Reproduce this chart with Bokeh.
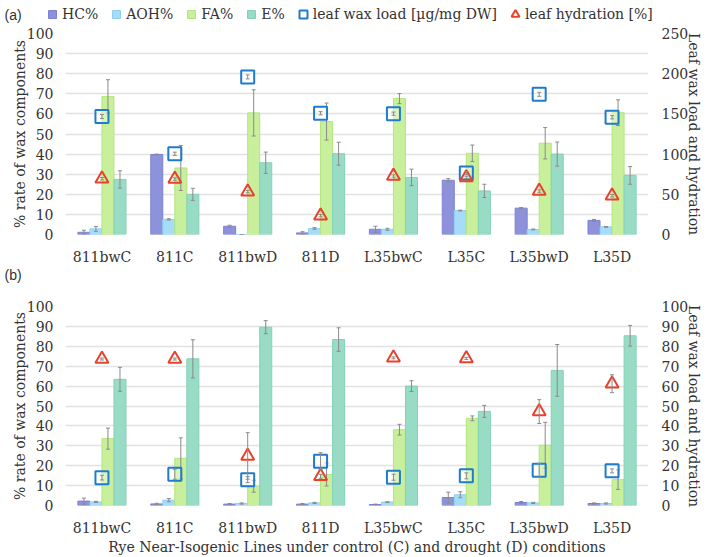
from bokeh.plotting import figure
from bokeh.models import (ColumnDataSource, FactorRange, Range1d, LinearAxis,
                          FixedTicker, Legend, LegendItem, Label)
from bokeh.transform import dodge
from bokeh.layouts import column
from bokeh.embed import file_html
from bokeh.resources import INLINE

# ---------------- data ----------------
cats = ["811bwC", "811C", "811bwD", "811D", "L35bwC", "L35C", "L35bwD", "L35D"]

# panel (a)
hc_a = [1.1, 39.8, 4.1, 0.8, 2.6, 27.0, 13.1, 7.0]
hc_a_err = [1.0, 0.2, 0.5, 0.6, 1.5, 0.8, 0.3, 0.5]
aoh_a = [2.8, 7.5, 0.0, 3.0, 2.6, 11.9, 2.5, 3.8]
aoh_a_err = [1.2, 0.3, 0.0, 0.4, 0.5, 0.2, 0.2, 0.2]
fa_a = [68.7, 33.1, 60.5, 56.2, 67.6, 40.4, 45.4, 60.6]
fa_a_err = [8.3, 11.2, 11.5, 9.2, 2.5, 4.1, 7.8, 6.4]
e_a = [27.4, 20.0, 35.7, 40.2, 28.4, 21.7, 40.0, 29.4]
e_a_err = [4.3, 3.0, 5.3, 5.7, 4.1, 3.3, 6.0, 4.4]
wax_a = [146.7, 100.4, 196.0, 150.8, 150.3, 76.4, 174.4, 145.8]
wax_a_err = [2.5, 2.0, 2.5, 2.0, 2.0, 2.0, 2.5, 2.0]
hyd_a = [69.3, 69.0, 53.3, 23.4, 72.7, 71.0, 54.0, 48.2]
hyd_a_err = [1.5, 1.5, 1.5, 1.5, 1.5, 1.5, 1.5, 1.5]

# panel (b)
hc_b = [2.2, 0.8, 0.7, 0.7, 0.5, 4.0, 1.5, 1.0]
hc_b_err = [1.5, 0.3, 0.3, 0.3, 0.2, 2.7, 0.5, 0.3]
aoh_b = [1.8, 2.7, 1.0, 1.3, 1.7, 5.4, 1.3, 1.0]
aoh_b_err = [0.3, 0.8, 0.3, 0.3, 0.2, 1.5, 0.3, 0.3]
fa_b = [33.6, 23.7, 9.7, 15.6, 38.1, 43.8, 30.3, 13.0]
fa_b_err = [5.3, 10.3, 3.0, 5.8, 2.7, 1.2, 11.5, 4.9]
e_b = [63.4, 73.7, 89.6, 83.4, 60.0, 47.3, 67.9, 85.3]
e_b_err = [6.0, 9.6, 3.3, 5.9, 2.7, 3.0, 13.0, 5.2]
wax_b = [14.0, 15.7, 13.0, 22.2, 14.2, 14.9, 17.7, 17.4]
wax_b_err = [1.2, 2.5, 1.5, 4.3, 1.5, 1.5, 3.5, 1.0]
hyd_b = [73.6, 73.6, 24.9, 14.7, 74.2, 73.9, 47.2, 61.2]
hyd_b_err = [0.5, 0.5, 11.7, 1.0, 0.5, 0.5, 6.0, 4.5]

series_names = ["HC%", "AOH%", "FA%", "E%"]
wax_name = "leaf wax load [µg/mg DW]"
hyd_name = "leaf hydration [%]"
fills = ["#8e92db", "#a6dcf7", "#c8ef9c", "#99dcc5"]
lines = ["#7d82d0", "#8fd0f2", "#b4e47e", "#84d1b6"]
WAX_COLOR = "#1f7bcb"
HYD_COLOR = "#e8412c"
ERR_COLOR = "#8a8a8a"
GRID = "#e2e2e2"
TXT = "#333333"
SERIF = "DejaVu Serif"
BW = 0.165
offsets = [-1.5 * BW, -0.5 * BW, 0.5 * BW, 1.5 * BW]
W = 709


def style_axis(ax, standoff, label_standoff):
    ax.axis_line_color = None
    ax.major_tick_line_color = None
    ax.minor_tick_line_color = None
    ax.major_tick_out = 0
    ax.major_tick_in = 0
    ax.minor_tick_out = 0
    ax.minor_tick_in = 0
    ax.major_label_text_font = SERIF
    ax.major_label_text_font_size = "14px"
    ax.major_label_text_color = TXT
    ax.major_label_standoff = standoff
    ax.axis_label_text_font = SERIF
    ax.axis_label_text_font_size = "14px"
    ax.axis_label_text_font_style = "normal"
    ax.axis_label_text_color = TXT
    ax.axis_label_standoff = label_standoff


def strip(height):
    s = figure(width=W, height=height, x_range=Range1d(0, 1), y_range=Range1d(0, 1),
               x_axis_type=None, y_axis_type=None,
               output_backend="svg", toolbar_location=None,
               min_border_left=0, min_border_right=0, min_border_top=0, min_border_bottom=0)
    if "frame_align" in s.properties():
        s.frame_align = False
    s.grid.visible = False
    s.outline_line_color = None
    return s


# ---------------- header strip with "(a)" and legend ----------------
hdr = strip(24)
items = []
for i in range(4):
    d = hdr.scatter(x=[5], y=[5], marker="square", size=8,
                    fill_color=fills[i], line_color=lines[i])
    items.append(LegendItem(label=series_names[i], renderers=[d]))
d = hdr.scatter(x=[5], y=[5], marker="square", size=8, fill_color=None,
                line_color=WAX_COLOR, line_width=2)
items.append(LegendItem(label=wax_name, renderers=[d]))
d = hdr.scatter(x=[5], y=[5], marker="triangle", size=8, fill_color=None,
                line_color=HYD_COLOR, line_width=2)
items.append(LegendItem(label=hyd_name, renderers=[d]))
leg = Legend(items=items, orientation="horizontal", location=(42, 0),
             glyph_width=20, glyph_height=20, label_standoff=0, spacing=8,
             padding=0, margin=0, border_line_color=None,
             background_fill_alpha=0, label_text_font=SERIF,
             label_text_font_size="14px", label_text_color=TXT)
hdr.add_layout(leg)
hdr.add_layout(Label(x=4, y=10, x_units="screen", y_units="screen", text="(a)",
                     text_font="Liberation Sans", text_font_size="14px",
                     text_color=TXT, text_baseline="middle"))

# ---------------- strip with "(b)" ----------------
tagb = strip(17)
tagb.add_layout(Label(x=4, y=9.5, x_units="screen", y_units="screen", text="(b)",
                      text_font="Liberation Sans", text_font_size="14px",
                      text_color=TXT, text_baseline="middle"))


def make_panel(bars, errs, wax, waxe, hyd, hyde, rmax, rstep,
               height, btop, bbottom, xstand, xtitle):
    p = figure(x_range=FactorRange(*cats), y_range=Range1d(0, 100),
               width=W, height=height, output_backend="svg",
               toolbar_location=None, min_border_left=65, min_border_right=61,
               min_border_top=btop, min_border_bottom=bbottom)
    p.outline_line_color = None
    p.xgrid.grid_line_color = None
    p.ygrid.grid_line_color = GRID
    p.ygrid.grid_line_width = 1.5
    p.yaxis.ticker = FixedTicker(ticks=list(range(0, 101, 10)))
    p.yaxis.axis_label = "% rate of wax components"
    style_axis(p.yaxis[0], 12, -4)
    style_axis(p.xaxis[0], xstand, 0)
    if xtitle:
        p.xaxis.axis_label = xtitle

    p.extra_y_ranges = {"r": Range1d(0, rmax)}
    rax = LinearAxis(y_range_name="r", ticker=FixedTicker(ticks=list(range(0, rmax + 1, rstep))),
                     axis_label="Leaf wax load and hydration")
    style_axis(rax, 13, -5)
    p.add_layout(rax, "right")

    data = dict(cat=cats, wax=wax, wax_lo=[v - d for v, d in zip(wax, waxe)],
                wax_hi=[v + d for v, d in zip(wax, waxe)], hyd=hyd,
                hyd_lo=[v - d for v, d in zip(hyd, hyde)],
                hyd_hi=[v + d for v, d in zip(hyd, hyde)])
    for i, (vals, er) in enumerate(zip(bars, errs)):
        data[f"v{i}"] = vals
        data[f"lo{i}"] = [v - d for v, d in zip(vals, er)]
        data[f"hi{i}"] = [v + d for v, d in zip(vals, er)]
    src = ColumnDataSource(data)

    for i in range(4):
        xs = dodge("cat", offsets[i], range=p.x_range)
        p.vbar(x=xs, top=f"v{i}", width=BW, bottom=0, source=src,
               fill_color=fills[i], line_color=lines[i], line_width=1)
    for i in range(4):
        xs = dodge("cat", offsets[i], range=p.x_range)
        p.segment(x0=xs, x1=xs, y0=f"lo{i}", y1=f"hi{i}", source=src,
                  line_color=ERR_COLOR, line_width=1)
        p.scatter(x=xs, y=f"hi{i}", marker="dash", size=4, source=src,
                  line_color=ERR_COLOR, line_width=1)
        p.scatter(x=xs, y=f"lo{i}", marker="dash", size=4, source=src,
                  line_color=ERR_COLOR, line_width=1)

    p.scatter(x="cat", y="wax", source=src, y_range_name="r", marker="square",
              size=13, line_color=WAX_COLOR, line_width=2, fill_color="white",
              fill_alpha=0.35)
    p.scatter(x="cat", y="hyd", source=src, y_range_name="r", marker="triangle",
              size=13, line_color=HYD_COLOR, line_width=2, fill_color=None)
    for f in ("wax", "hyd"):
        p.segment(x0="cat", x1="cat", y0=f"{f}_lo", y1=f"{f}_hi", source=src,
                  y_range_name="r", line_color=ERR_COLOR, line_width=1)
        p.scatter(x="cat", y=f"{f}_hi", marker="dash", size=4, source=src,
                  y_range_name="r", line_color=ERR_COLOR, line_width=1)
        p.scatter(x="cat", y=f"{f}_lo", marker="dash", size=4, source=src,
                  y_range_name="r", line_color=ERR_COLOR, line_width=1)
    return p


# panel (a): page y 24..267, frame 33..237
pa = make_panel([hc_a, aoh_a, fa_a, e_a], [hc_a_err, aoh_a_err, fa_a_err, e_a_err],
                wax_a, wax_a_err, hyd_a, hyd_a_err, 250, 50,
                243, 9, 30, 14, None)
# panel (b): page y 284..557, frame 306..~504
pb = make_panel([hc_b, aoh_b, fa_b, e_b], [hc_b_err, aoh_b_err, fa_b_err, e_b_err],
                wax_b, wax_b_err, hyd_b, hyd_b_err, 100, 10,
                273, 22, 52, 14,
                "Rye Near-Isogenic Lines under control (C) and drought (D) conditions")

layout = column(hdr, pa, tagb, pb, spacing=0)
open("out.html", "w").write(file_html(layout, INLINE))
